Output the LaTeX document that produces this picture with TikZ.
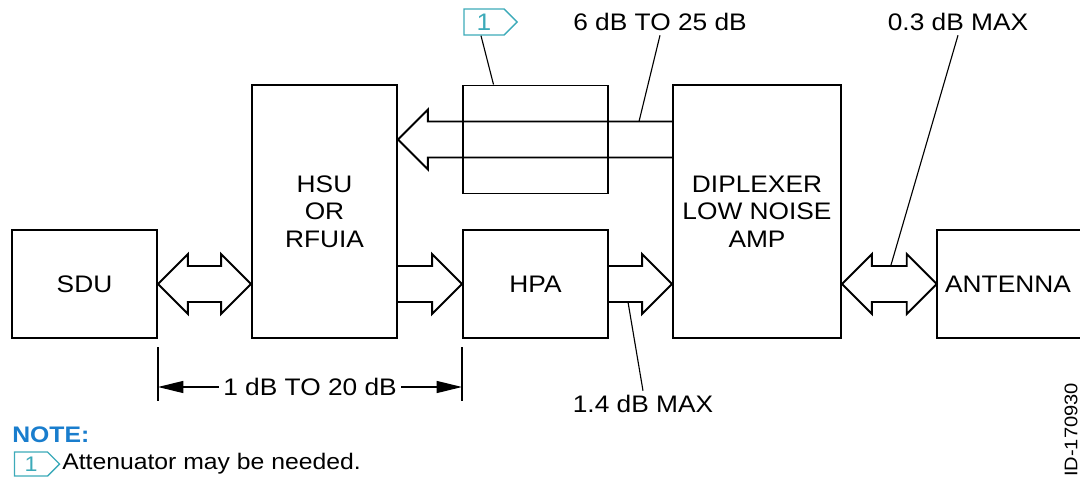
\documentclass[tikz,border=0pt]{standalone}
\usepackage{fontspec}
\setmainfont{Liberation Sans}[FakeStretch=1.1]
\usetikzlibrary{calc,shapes.symbols,arrows.meta}

\definecolor{tagcol}{RGB}{60,170,185}
\definecolor{notecol}{RGB}{25,125,205}

\tikzset{
  unit/.style={draw, line width=1.4pt, align=center, inner sep=0pt},
  fat/.style={line width=1.4pt, line join=miter},
  leader/.style={line width=0.8pt},
  lbl/.style={inner sep=3pt},
  dimline/.style={line width=1pt, -{Triangle[length=18pt,width=8.5pt]}},
  tagbox/.style={draw=tagcol, line width=1pt, signal, signal to=east,
    text=tagcol, inner sep=0pt}
}

% outline arrow, head at the second point
\newcommand{\fatarrow}[2]{%
  \draw[fat] let \p1=(#1), \p2=(#2), \p3=($(#2)!21.3pt!(#1)$) in
    (\x1,\y1+12.8pt) -- (\x3,\y1+12.8pt) -- (\x3,\y1+21.3pt) -- (\x2,\y2)
    -- (\x3,\y1-21.3pt) -- (\x3,\y1-12.8pt) -- (\x1,\y1-12.8pt);}
% outline arrow, heads at both points
\newcommand{\fatboth}[2]{%
  \draw[fat] let \p1=(#1), \p2=(#2), \p3=($(#2)!21.3pt!(#1)$),
    \p4=($(#1)!21.3pt!(#2)$) in
    (\x1,\y1) -- (\x4,\y1+21.3pt) -- (\x4,\y1+12.8pt) -- (\x3,\y1+12.8pt)
    -- (\x3,\y1+21.3pt) -- (\x2,\y2) -- (\x3,\y1-21.3pt) -- (\x3,\y1-12.8pt)
    -- (\x4,\y1-12.8pt) -- (\x4,\y1-21.3pt) -- cycle;}

\begin{document}
\begin{tikzpicture}[x=0.025cm, y=-0.025cm, font=\fontsize{17}{19.5}\selectfont]
    \useasboundingbox (0,0) rectangle (1080,480);

    % Blocks
    \node[unit, minimum width=3.625cm, minimum height=2.7cm] (sdu) at (84.5,284) {SDU};
    \node[unit, minimum width=3.625cm, minimum height=6.325cm] (hsu) at (324.5,211.5) {HSU\\OR\\RFUIA};
    \node[unit, minimum width=3.625cm, minimum height=2.7cm] (att) at (535.5,139.5) {};
    \node[unit, minimum width=3.625cm, minimum height=2.7cm] (hpa) at (535.5,284) {HPA};
    \node[unit, minimum width=4.2cm, minimum height=6.325cm] (dip) at (757,211.5) {DIPLEXER\\LOW NOISE\\AMP};
    \node[inner sep=0pt, minimum width=3.55cm, minimum height=2.7cm] (ant) at (1008,284) {ANTENNA};
    \draw[line width=1.4pt] ($(ant.north east)+(20,0)$) -- (ant.north west)
        -- (ant.south west) -- ($(ant.south east)+(20,0)$);

    % Signal paths
    \fatboth{sdu.east}{hsu.west |- sdu.east}
    \fatarrow{hsu.east |- hpa.west}{hpa.west}
    \fatarrow{hpa.east}{dip.west |- hpa.east}
    \fatboth{dip.east |- ant.west}{ant.west}
    \fatarrow{dip.west |- att.center}{hsu.east |- att.center}

    % Loss labels
    \node[lbl] (rxloss) at (660,22) {6 dB TO 25 dB};
    \coordinate (rxpt) at ($(att.east |- att.center)+(30,-18)$);
    \draw[leader] (rxloss.south) -- (rxpt);

    \node[lbl] (antloss) at (958,22) {0.3 dB MAX};
    \coordinate (antpt) at ($(ant.west)+(-46,-18)$);
    \draw[leader] (antloss.south) -- (antpt);

    \node[lbl] (hpaloss) at (643,404) {1.4 dB MAX};
    \coordinate (hpapt) at ($(hpa.east)+(19,18)$);
    \draw[leader] (hpaloss.north) -- (hpapt);

    % Cable loss dimension
    \draw[leader] ($(sdu.south east)+(0,8)$) -- ++(0,54);
    \draw[leader] ($(hpa.south west)+(0,8)$) -- ++(0,54);
    \node[lbl] (cabloss) at (310,387) {1 dB TO 20 dB};
    \draw[dimline] (cabloss.west) -- (sdu.east |- cabloss.west);
    \draw[dimline] (cabloss.east) -- (hpa.west |- cabloss.east);

    % Attenuator flag
    \node[tagbox, minimum width=1.325cm, minimum height=0.65cm] (flag) at (484,22) {1};
    \draw[leader] ($(flag.south)+(-3,0)$) -- ($(att.north)+(-42,0)$);

    % Note
    \node[anchor=west, inner sep=0pt, text=notecol, font=\fontsize{16}{18}\selectfont\bfseries] (note) at (12,435) {NOTE:};
    \node[tagbox, minimum width=1.125cm, minimum height=0.6cm, font=\fontsize{15}{17}\selectfont] (noteflag) at (31,464) {1};
    \node[anchor=west, inner sep=0pt, font=\fontsize{16}{18}\selectfont] (notetext) at (62,464) {Attenuator may be needed.};

    % Figure id
    \node[rotate=90, inner sep=0pt, font=\fontsize{13}{15}\selectfont] (figid) at (1071,430) {ID-170930};
\end{tikzpicture}
\end{document}
